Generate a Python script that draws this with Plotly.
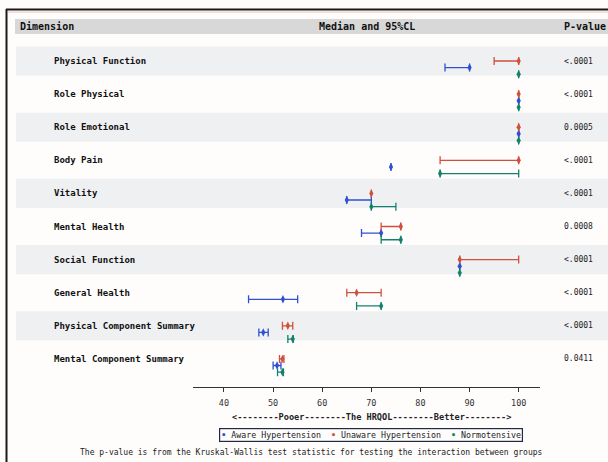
import plotly.graph_objects as go

# ---------------- data ----------------
dimensions = ["Physical Function", "Role Physical", "Role Emotional", "Body Pain",
              "Vitality", "Mental Health", "Social Function", "General Health",
              "Physical Component Summary", "Mental Component Summary"]
p_values = ["<.0001", "<.0001", "0.0005", "<.0001", "<.0001",
            "0.0008", "<.0001", "<.0001", "<.0001", "0.0411"]

aware_median = [90, 100, 100, 74, 65, 72, 88, 52, 48, 50.8]
aware_low    = [85, 100, 100, 74, 65, 68, 88, 45, 47.1, 50.0]
aware_high   = [90, 100, 100, 74, 70, 72, 88, 55, 49, 51.6]

unaware_median = [100, 100, 100, 100, 70, 76, 88, 67, 53, 51.9]
unaware_low    = [95, 100, 100, 84, 70, 72, 88, 65, 51.9, 51.3]
unaware_high   = [100, 100, 100, 100, 70, 76, 100, 72, 54, 52.2]

normo_median = [100, 100, 100, 84, 70, 76, 88, 72, 54, 51.9]
normo_low    = [100, 100, 100, 84, 70, 72, 88, 67, 53, 50.9]
normo_high   = [100, 100, 100, 100, 75, 76, 88, 72, 54.1, 52.1]

x_ticks = [40, 50, 60, 70, 80, 90, 100]
series_names = ["Aware Hypertension", "Unaware Hypertension", "Normotensive"]
series_colors = ["#2f50d2", "#d0503e", "#13826c"]

# ---------------- layout helpers ----------------
W, H = 608, 462
FONT = "DejaVu Sans Mono"
row_px = 33.1
top_row_px = 61


def px_x(p):
    return p / W


def px_y(p):
    return 1 - p / H


fig = go.Figure()

series = [
    (aware_median, aware_low, aware_high, 0.2),
    (unaware_median, unaware_low, unaware_high, 0.0),
    (normo_median, normo_low, normo_high, 0.4),
]
for (med, lo, hi, off), name, col in zip(series, series_names, series_colors):
    ys = [-i - off for i in range(len(dimensions))]
    fig.add_trace(go.Scatter(
        x=med, y=ys, mode="markers", name=name, showlegend=False,
        marker=dict(symbol="diamond-tall", size=6, color=col),
        error_x=dict(type="data", symmetric=False,
                     array=[h - m for h, m in zip(hi, med)],
                     arrayminus=[m - l for m, l in zip(med, lo)],
                     color=col, thickness=1.3, width=4),
    ))

shapes = []
# header band
shapes.append(dict(type="rect", xref="paper", yref="paper", x0=px_x(15), x1=1,
                   y0=px_y(34), y1=px_y(19), fillcolor="#d8d8d8", line=dict(width=0),
                   layer="below"))
# alternating row bands
for i in range(0, len(dimensions), 2):
    shapes.append(dict(type="rect", xref="paper", yref="y", x0=px_x(16), x1=1,
                       y0=-i - 0.44, y1=-i + 0.44, fillcolor="#eff0f2",
                       line=dict(width=0), layer="below"))
# outer frame
shapes.append(dict(type="line", xref="paper", yref="paper", x0=px_x(8), x1=1,
                   y0=px_y(12), y1=px_y(12), line=dict(color="#f0c4b6", width=1)))
shapes.append(dict(type="line", xref="paper", yref="paper", x0=px_x(6), x1=1,
                   y0=px_y(9.5), y1=px_y(9.5), line=dict(color="#1a1a1a", width=2)))
shapes.append(dict(type="line", xref="paper", yref="paper", x0=px_x(6.5), x1=px_x(6.5),
                   y0=px_y(9), y1=0, line=dict(color="#1a1a1a", width=2)))

annotations = []
hdr = dict(family=FONT, size=10, color="#111")
annotations.append(dict(text="<b>Dimension</b>", xref="paper", yref="paper",
                        x=px_x(18), y=px_y(27), xanchor="left", yanchor="middle",
                        showarrow=False, font=hdr))
annotations.append(dict(text="<b>Median and 95%CL</b>", xref="paper", yref="paper",
                        x=px_x(367), y=px_y(27), xanchor="center", yanchor="middle",
                        showarrow=False, font=hdr))
annotations.append(dict(text="<b>P-value</b>", xref="paper", yref="paper",
                        x=px_x(562), y=px_y(27), xanchor="left", yanchor="middle",
                        showarrow=False, font=hdr))
for i, (d, p) in enumerate(zip(dimensions, p_values)):
    annotations.append(dict(text="<b>" + d + "</b>", xref="paper", yref="y",
                            x=px_x(52), y=-i, xanchor="left", yanchor="middle",
                            showarrow=False, font=dict(family=FONT, size=9, color="#111")))
    annotations.append(dict(text=p.replace("<", "&lt;"), xref="paper", yref="y",
                            x=px_x(562), y=-i, xanchor="left", yanchor="middle",
                            showarrow=False, font=dict(family=FONT, size=8, color="#222")))

annotations.append(dict(
    text="<b>&lt;--------Pooer--------The HRQOL--------Better--------&gt;</b>",
    xref="paper", yref="paper", x=px_x(371), y=px_y(417), xanchor="center",
    yanchor="middle", showarrow=False, font=dict(family=FONT, size=8.6, color="#222")))

legend_txt = "  ".join(
    f"<span style='color:{c}'><b>•</b></span> {n}" for n, c in zip(series_names, series_colors))
annotations.append(dict(
    text=legend_txt, xref="paper", yref="paper", x=px_x(371), y=px_y(434.5),
    xanchor="center", yanchor="middle", showarrow=False,
    font=dict(family=FONT, size=8.3, color="#222"),
    bordercolor="#1f2a44", borderwidth=1.2, borderpad=1))

annotations.append(dict(
    text="The p-value is from the Kruskal-Wallis test statistic for testing the interaction between groups",
    xref="paper", yref="paper", x=px_x(78), y=px_y(452), xanchor="left",
    yanchor="middle", showarrow=False, font=dict(family=FONT, size=8, color="#222")))

y_top = top_row_px / row_px
y_bot = -(H - top_row_px) / row_px

fig.update_layout(
    width=W, height=H,
    margin=dict(l=0, r=0, t=0, b=0, autoexpand=False),
    paper_bgcolor="#fefdfc", plot_bgcolor="rgba(0,0,0,0)",
    showlegend=False,
    shapes=shapes, annotations=annotations,
    xaxis=dict(domain=[px_x(193), px_x(540)], range=[33.69, 104.34],
               anchor="free", position=px_y(387), showgrid=False, zeroline=False,
               showline=True, linecolor="#333", linewidth=1.3,
               ticks="outside", ticklen=4, tickcolor="#333", tickwidth=1,
               ticklabelstandoff=4,
               tickvals=x_ticks, ticktext=[str(t) for t in x_ticks],
               tickfont=dict(family=FONT, size=8.5, color="#333")),
    yaxis=dict(domain=[0, 1], range=[y_bot, y_top], visible=False, fixedrange=True),
)

fig.write_html("out.html", config={"displayModeBar": False},
               post_script="document.body.style.margin='0px';document.body.style.overflow='hidden';")
